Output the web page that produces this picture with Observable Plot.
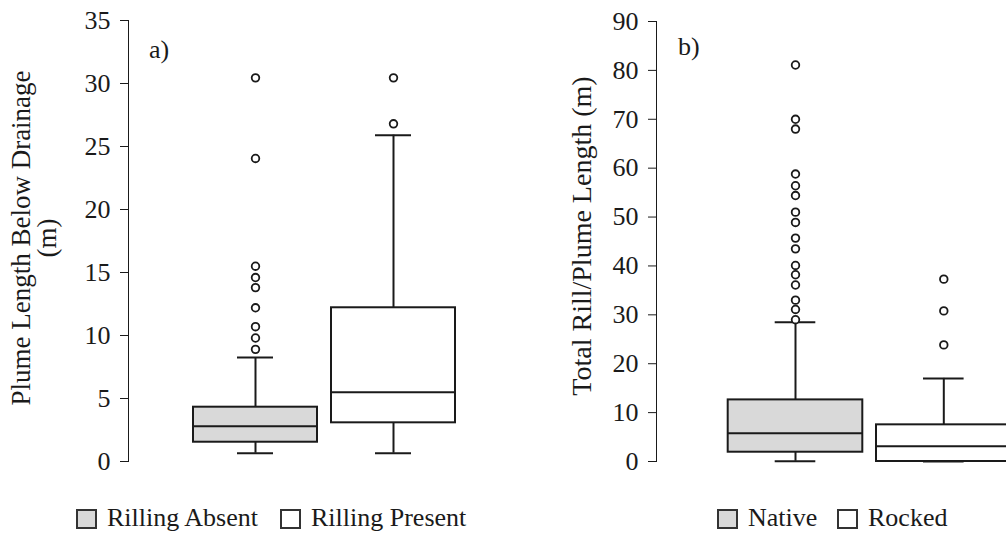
<!DOCTYPE html>
<html>
<head>
<meta charset="utf-8">
<script src="https://cdn.jsdelivr.net/npm/d3@7"></script>
<script src="https://cdn.jsdelivr.net/npm/@observablehq/plot@0.6"></script>
<style>
  html, body { margin: 0; padding: 0; background: #fff; overflow: hidden; }
  #page { position: relative; width: 1006px; height: 533px; overflow: hidden; }
  .panel { position: absolute; top: 0; }
  #overlay { position: absolute; left: 0; top: 0; pointer-events: none; }
  #overlay text { font-family: "Liberation Serif", "Times New Roman", serif; fill: #1a1a1a; }
</style>
</head>
<body>
<div id="page">
  <div id="left" class="panel" style="left:0px"></div>
  <div id="right" class="panel" style="left:540px"></div>
  <svg id="overlay" width="1006" height="533"></svg>
</div>
<script>
// ---------- Panel a) data ----------
const groupsA = ["Rilling Absent", "Rilling Present"];
const loA  = [0.66, 0.66];
const q1A  = [1.53, 3.07];
const medA = [2.8, 5.5];
const q3A  = [4.31, 12.2];
const hiA  = [8.25, 25.9];
const outAbsent  = [8.9, 9.8, 10.7, 12.2, 13.8, 14.6, 15.5, 24.05, 30.45];
const outPresent = [26.8, 30.45];
const yTicksA = [0, 5, 10, 15, 20, 25, 30, 35];
const yLabelA = ["Plume Length Below Drainage", "(m)"];

// ---------- Panel b) data ----------
const groupsB = ["Native", "Rocked"];
const loB  = [0.05, 0];
const q1B  = [1.9, 0];
const medB = [5.8, 3.1];
const q3B  = [12.6, 7.5];
const hiB  = [28.5, 17.0];
const outNative = [29.0, 31.1, 33.0, 36.1, 38.2, 40.1, 43.5, 45.7, 48.9, 51.0, 54.4, 56.4, 58.8, 68.0, 70.0, 81.1];
const outRocked = [23.85, 30.8, 37.3];
const yTicksB = [0, 10, 20, 30, 40, 50, 60, 70, 80, 90];
const yLabelB = "Total Rill/Plume Length (m)";

const boxFills = ["#d9d9d9", "#ffffff"];
const ink = "#1a1a1a";

function boxPanel({groups, lo, q1, med, q3, hi, outliers, ticks, yMax, width, marginLeft, marginTop, xRange, padInner, capInset}) {
  const table = groups.map((g, i) => ({group: g, lo: lo[i], q1: q1[i], med: med[i], q3: q3[i], hi: hi[i]}));
  const outs = [];
  groups.forEach((g, i) => outliers[i].forEach(v => outs.push({group: g, value: v})));
  return Plot.plot({
    width, height: 470,
    marginTop, marginBottom: 9, marginLeft, marginRight: 0,
    style: {fontFamily: "'Liberation Serif', 'Times New Roman', serif", fontSize: "26px", color: ink, background: "transparent", overflow: "visible"},
    x: {domain: groups, range: xRange, paddingInner: padInner, paddingOuter: 0, round: false, axis: null},
    y: {domain: [0, yMax], ticks, tickSize: 8, tickPadding: 10, line: true, label: null},
    color: {domain: groups, range: boxFills},
    marks: [
      Plot.ruleX(table, {x: "group", y1: "lo", y2: "q1", stroke: ink, strokeWidth: 2}),
      Plot.ruleX(table, {x: "group", y1: "q3", y2: "hi", stroke: ink, strokeWidth: 2}),
      Plot.barY(table, {x: "group", y1: "q1", y2: "q3", fill: "group", stroke: ink, strokeWidth: 2}),
      Plot.tickY(table, {x: "group", y: "med", stroke: ink, strokeWidth: 2}),
      Plot.tickY(table, {x: "group", y: "lo", stroke: ink, strokeWidth: 2, insetLeft: capInset, insetRight: capInset}),
      Plot.tickY(table, {x: "group", y: "hi", stroke: ink, strokeWidth: 2, insetLeft: capInset, insetRight: capInset}),
      Plot.dot(outs, {x: "group", y: "value", r: 3.8, stroke: ink, strokeWidth: 1.8, fill: "white"})
    ]
  });
}

document.getElementById("left").append(boxPanel({
  groups: groupsA, lo: loA, q1: q1A, med: medA, q3: q3A, hi: hiA,
  outliers: [outAbsent, outPresent], ticks: yTicksA, yMax: 35,
  width: 500, marginLeft: 128, marginTop: 20,
  xRange: [193, 455], padInner: 14 / 138, capInset: 44
}));

document.getElementById("right").append(boxPanel({
  groups: groupsB, lo: loB, q1: q1B, med: medB, q3: q3B, hi: hiB,
  outliers: [outNative, outRocked], ticks: yTicksB, yMax: 90,
  width: 466, marginLeft: 116, marginTop: 21,
  xRange: [187.7, 470.6], padInner: 13.7 / 148.3, capInset: 47
}));

// ---------- Overlay: axis titles, panel letters, legends ----------
const ov = d3.select("#overlay");
function rotLabel(x, y, txt, size) {
  ov.append("text").attr("x", x).attr("y", y).attr("text-anchor", "middle")
    .attr("font-size", size).attr("transform", `rotate(-90 ${x} ${y})`).text(txt);
}
rotLabel(30, 238, yLabelA[0], 27);
rotLabel(56, 238, yLabelA[1], 27);
rotLabel(591, 236, yLabelB, 28);

ov.append("text").attr("x", 149).attr("y", 58).attr("font-size", 26).text("a)");
ov.append("text").attr("x", 678).attr("y", 55).attr("font-size", 26).text("b)");

function legendItem(x, label, fill) {
  ov.append("rect").attr("x", x + 1).attr("y", 510).attr("width", 19).attr("height", 18)
    .attr("fill", fill).attr("stroke", "#333").attr("stroke-width", 2);
  ov.append("text").attr("x", x + 31).attr("y", 526).attr("font-size", 26).text(label);
}
legendItem(76, groupsA[0], boxFills[0]);
legendItem(280, groupsA[1], boxFills[1]);
legendItem(717, groupsB[0], boxFills[0]);
legendItem(837, groupsB[1], boxFills[1]);
</script>
</body>
</html>
